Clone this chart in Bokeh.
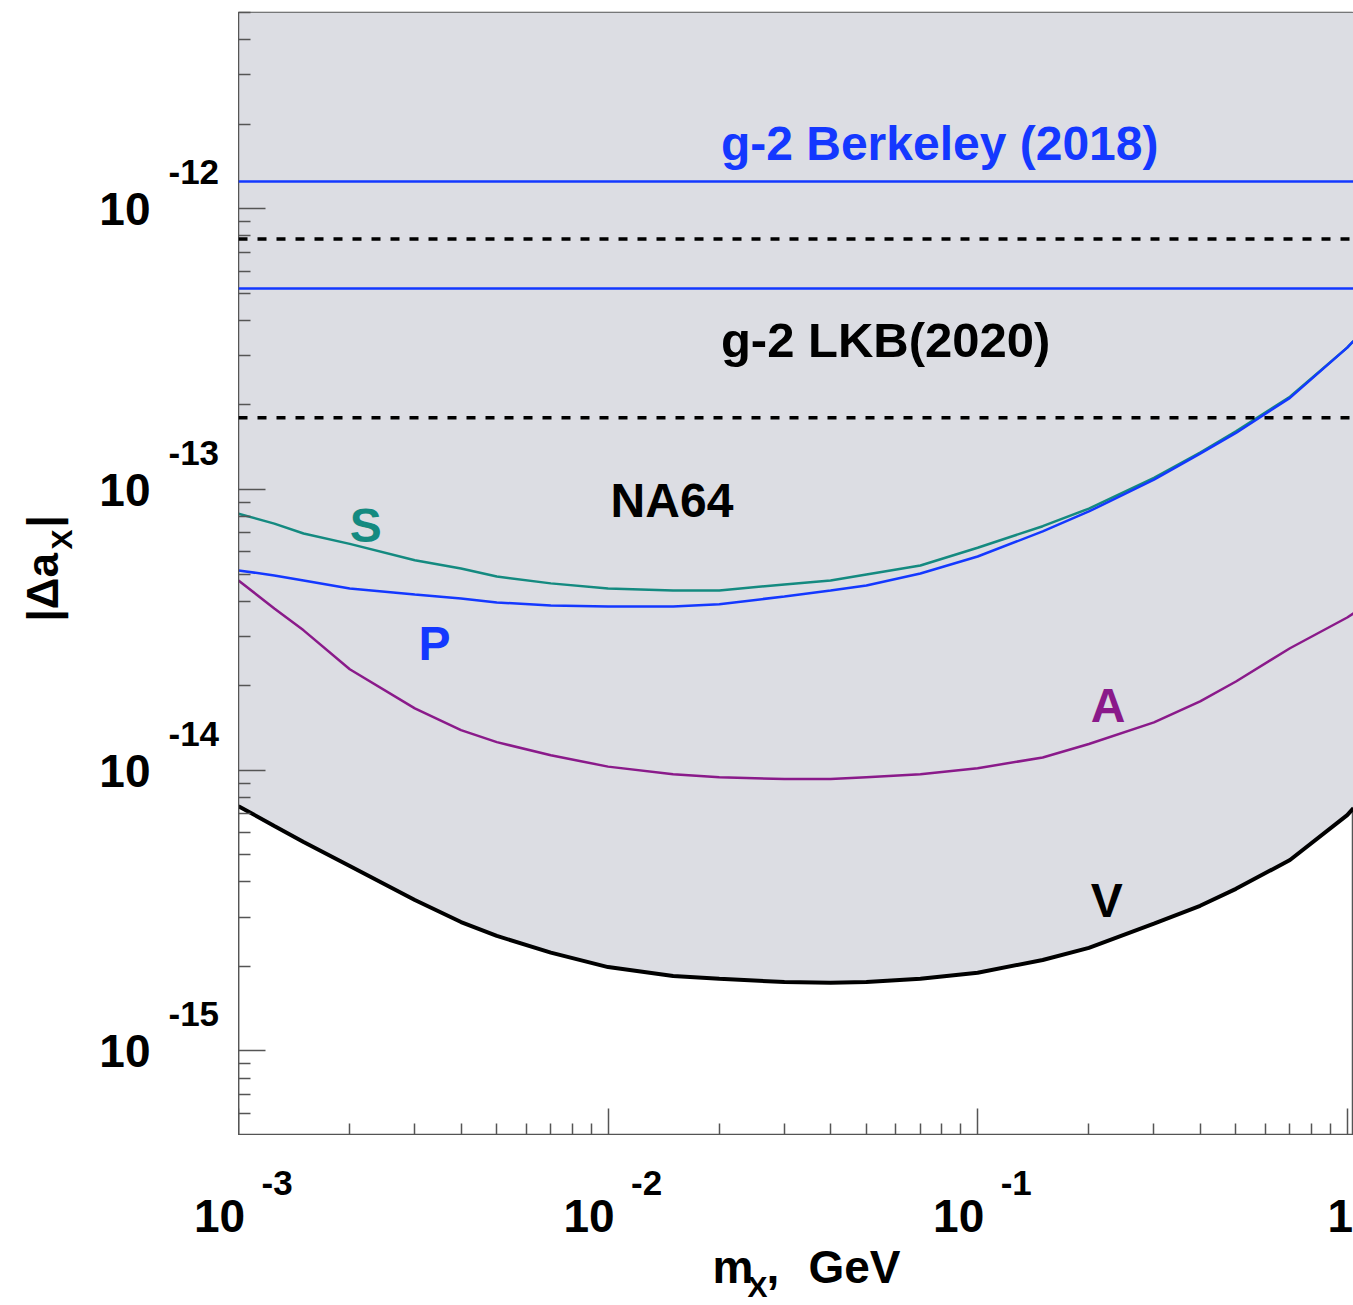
import numpy as np
from bokeh.plotting import figure
from bokeh.layouts import column, row
from bokeh.models import Range1d, FixedTicker, Label, Span, CustomJSTickFormatter
from bokeh.embed import file_html
from bokeh.resources import INLINE

# ---------------- data ----------------
mass = [0.001, 0.00125, 0.0015, 0.002, 0.003, 0.004, 0.005, 0.007, 0.01, 0.015, 0.02,
        0.03, 0.04, 0.05, 0.07, 0.1, 0.15, 0.2, 0.3, 0.4, 0.5, 0.7, 1.0, 1.04]
s_vals = [8.2e-14, 7.56e-14, 6.97e-14, 6.4e-14, 5.6e-14, 5.23e-14, 4.9e-14, 4.63e-14,
          4.44e-14, 4.37e-14, 4.37e-14, 4.59e-14, 4.74e-14, 4.98e-14, 5.36e-14, 6.2e-14,
          7.4e-14, 8.55e-14, 1.10e-13, 1.353e-13, 1.61e-13, 2.14e-13, 3.2e-13, 3.38e-13]
p_vals = [5.15e-14, 4.94e-14, 4.74e-14, 4.44e-14, 4.23e-14, 4.09e-14, 3.96e-14, 3.86e-14,
          3.83e-14, 3.83e-14, 3.90e-14, 4.16e-14, 4.37e-14, 4.55e-14, 5.02e-14, 5.77e-14,
          7.09e-14, 8.35e-14, 1.084e-13, 1.342e-13, 1.59e-13, 2.12e-13, 3.2e-13, 3.38e-13]
a_vals = [4.74e-14, 3.77e-14, 3.15e-14, 2.29e-14, 1.66e-14, 1.389e-14, 1.259e-14, 1.13e-14,
          1.03e-14, 9.68e-15, 9.45e-15, 9.30e-15, 9.30e-15, 9.45e-15, 9.68e-15, 1.017e-14,
          1.11e-14, 1.24e-14, 1.48e-14, 1.76e-14, 2.07e-14, 2.72e-14, 3.50e-14, 3.62e-14]
v_vals = [7.45e-15, 6.33e-15, 5.55e-15, 4.56e-15, 3.45e-15, 2.88e-15, 2.57e-15, 2.24e-15,
          1.99e-15, 1.85e-15, 1.81e-15, 1.76e-15, 1.75e-15, 1.76e-15, 1.81e-15, 1.90e-15,
          2.11e-15, 2.33e-15, 2.84e-15, 3.29e-15, 3.78e-15, 4.79e-15, 6.92e-15, 7.33e-15]
berkeley_band = [5.2e-13, 1.25e-12]
lkb_band = [1.8e-13, 7.8e-13]

x_lim = [1e-3, 1.04]
y_lim = [5e-16, 5e-12]
x_major = [1e-3, 1e-2, 1e-1, 1.0]
x_exponents = ["-3", "-2", "-1"]
y_major = [1e-15, 1e-14, 1e-13, 1e-12]
y_exponents = ["-15", "-14", "-13", "-12"]

# ---------------- styles / layout ----------------
FONT = "Liberation Sans"
BLUE = "#1438ff"
TEAL = "#148a80"
PURPLE = "#8a1a8a"
SHADE = "#dcdde3"
AXIS = "#555555"
BASE_FIX = 0.36          # label baseline correction (fraction of font size)

W_TOTAL, H_TOTAL = 1353, 1305
LEFT_W = 238             # width of the y tick-label strip
BOTTOM_H = 170           # height of the x tick-label strip
TOP_PAD = 12
MAIN_W = W_TOTAL - LEFT_W
MAIN_H = H_TOTAL - BOTTOM_H


def new_fig(**kw):
    f = figure(output_backend="svg", toolbar_location=None, **kw)
    f.background_fill_color = "white"
    f.border_fill_color = "white"
    f.xgrid.visible = False
    f.ygrid.visible = False
    return f


def lab(fig, text, x, y, size, color="black", align="left", xo=0.0, yo=0.0, angle=0.0):
    if angle == 0.0:
        yo = yo + BASE_FIX * size
    else:
        xo = xo - BASE_FIX * size
    fig.add_layout(Label(x=x, y=y, text=text, x_offset=xo, y_offset=yo,
                         text_font=FONT, text_font_style="bold",
                         text_font_size=f"{size}px", text_color=color,
                         text_align=align, text_baseline="alphabetic", angle=angle))


# ---------------- main plot ----------------
p = new_fig(width=MAIN_W, height=MAIN_H, x_axis_type="log", y_axis_type="log",
            x_range=Range1d(x_lim[0], x_lim[1]), y_range=Range1d(y_lim[0], y_lim[1]),
            min_border_left=0, min_border_right=0, min_border_top=TOP_PAD,
            min_border_bottom=0)
p.outline_line_color = AXIS
p.outline_line_width = 1.5

x_minor = [k * 10.0 ** n for n in (-3, -2, -1) for k in range(2, 10)]
y_minor = [k * 10.0 ** n for n in (-16, -15, -14, -13, -12) for k in range(2, 10)]
p.xaxis.ticker = FixedTicker(ticks=x_major, minor_ticks=x_minor)
p.yaxis.ticker = FixedTicker(ticks=y_major, minor_ticks=y_minor)
blank = CustomJSTickFormatter(code="return ''")
for ax in (p.xaxis[0], p.yaxis[0]):
    ax.formatter = blank
    ax.major_label_text_font_size = "0px"
    ax.major_label_standoff = 0
    ax.axis_line_color = AXIS
    ax.axis_line_width = 1.5
    ax.major_tick_line_color = AXIS
    ax.minor_tick_line_color = AXIS
    ax.major_tick_line_width = 1.5
    ax.minor_tick_line_width = 1.5
    ax.major_tick_in = 27
    ax.major_tick_out = 0
    ax.minor_tick_in = 12
    ax.minor_tick_out = 0

# shaded region above the V curve
p.varea(x=mass, y1=v_vals, y2=[y_lim[1]] * len(mass), fill_color=SHADE)

for v in berkeley_band:
    p.add_layout(Span(location=v, dimension="width", line_color=BLUE, line_width=2.5))
for v in lkb_band:
    p.add_layout(Span(location=v, dimension="width", line_color="black",
                      line_width=3.5, line_dash="9 10"))

p.line(mass, s_vals, line_color=TEAL, line_width=2.5)
p.line(mass, p_vals, line_color=BLUE, line_width=2.5)
p.line(mass, a_vals, line_color=PURPLE, line_width=2.5)
p.line(mass, v_vals, line_color="black", line_width=4)

lab(p, "g-2 Berkeley (2018)", 0.0202, 1.48e-12, 48, BLUE)
lab(p, "g-2 LKB(2020)", 0.0202, 2.95e-13, 49)
lab(p, "NA64", 0.01016, 7.95e-14, 48)
lab(p, "S", 2.0e-3, 6.48e-14, 48, TEAL)
lab(p, "P", 3.07e-3, 2.46e-14, 48, BLUE)
lab(p, "A", 0.2022, 1.48e-14, 48, PURPLE)
lab(p, "V", 0.2022, 2.98e-15, 48)

# ---------------- left strip: y tick labels + y title ----------------
left = new_fig(width=LEFT_W, height=MAIN_H, y_axis_type="log",
               x_range=Range1d(-LEFT_W, 0), y_range=p.y_range,
               x_axis_location=None, y_axis_location=None,
               min_border_left=0, min_border_right=0, min_border_top=TOP_PAD,
               min_border_bottom=0)
left.outline_line_color = None
for t, e in zip(y_major, y_exponents):
    lab(left, "10", -88, t, 46, align="right", yo=-17)
    lab(left, e, -70, t, 35, align="left", yo=24)

ang = np.pi / 2
lab(left, "|\u0394a", -180, y_lim[0], 44, yo=514, angle=ang)
lab(left, "X", -166, y_lim[0], 30, yo=586, angle=ang)
lab(left, "|", -180, y_lim[0], 44, yo=608, angle=ang)

# ---------------- bottom strip: x tick labels + x title ----------------
ppd = MAIN_W / np.log10(x_lim[1] / x_lim[0])          # pixels per decade of main frame
xb_start = x_lim[0] / 10 ** (LEFT_W / ppd)
bottom = new_fig(width=W_TOTAL, height=BOTTOM_H, x_axis_type="log",
                 x_range=Range1d(xb_start, x_lim[1]), y_range=Range1d(-BOTTOM_H, 0),
                 x_axis_location=None, y_axis_location=None,
                 min_border_left=0, min_border_right=0, min_border_top=0,
                 min_border_bottom=0)
bottom.outline_line_color = None
for t, e in zip(x_major[:3], x_exponents):
    lab(bottom, "10", t, -97, 46, align="center", xo=-19)
    lab(bottom, e, t, -60, 35, align="left", xo=23)
lab(bottom, "1", x_major[3], -97, 46, align="center", xo=-7)

lab(bottom, "m", x_lim[0], -148, 46, xo=474)
lab(bottom, "X", x_lim[0], -162, 30, xo=509)
lab(bottom, ",", x_lim[0], -148, 46, xo=528)
lab(bottom, "GeV", x_lim[0], -148, 46, xo=570)

layout = column(row(left, p, spacing=0), bottom, spacing=0)
open("out.html", "w").write(file_html(layout, INLINE))
